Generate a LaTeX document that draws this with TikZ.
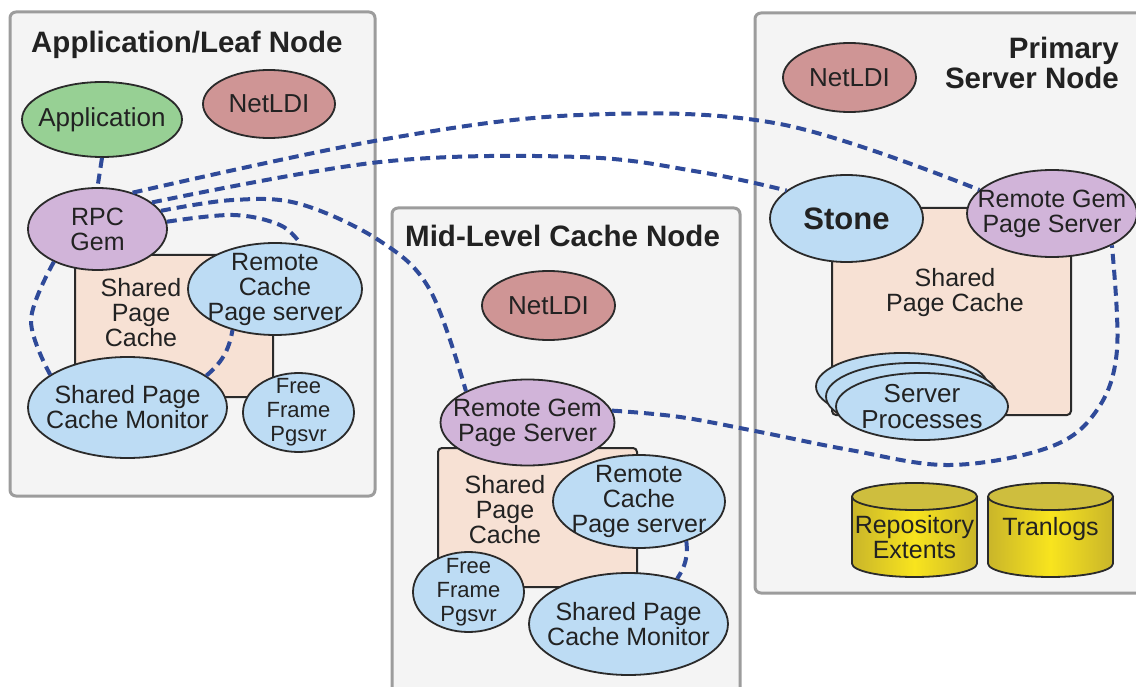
\documentclass[tikz,border=0pt]{standalone}
\usepackage{fontspec}
\setmainfont{Liberation Sans}
\usetikzlibrary{shapes.geometric}

\definecolor{panelfill}{HTML}{F4F4F4}
\definecolor{panelline}{HTML}{9C9C9C}
\definecolor{edge}{HTML}{2A2A2A}
\definecolor{txt}{HTML}{222222}
\definecolor{appgreen}{HTML}{97D094}
\definecolor{ldired}{HTML}{CF9595}
\definecolor{gempurple}{HTML}{D1B4D9}
\definecolor{procblue}{HTML}{BDDCF4}
\definecolor{cachepeach}{HTML}{F7E1D4}
\definecolor{linkblue}{HTML}{2F4A99}
\definecolor{ylight}{HTML}{F8E41E}
\definecolor{ydark}{HTML}{C9B52A}
\definecolor{ytop}{HTML}{CEBE3E}

\begin{document}
\begin{tikzpicture}[x=1pt,y=-1pt,
  panel/.style={draw=panelline, fill=panelfill, line width=3pt, rounded corners=6pt},
  cachebox/.style={draw=edge, fill=cachepeach, line width=2pt, rounded corners=4pt},
  proc/.style={ellipse, draw=edge, line width=1.8pt, inner sep=0pt},
  lbl/.style={text=txt, inner sep=0pt, align=center, font=\fontsize{25}{25}\selectfont},
  smalllbl/.style={lbl, font=\fontsize{22}{24}\selectfont},
  biglbl/.style={lbl, font=\fontsize{26}{26}\selectfont},
  esize/.style 2 args={minimum width=#1pt, minimum height=#2pt},
  title/.style={text=txt, inner sep=0pt, font=\fontsize{29.5}{30}\selectfont\bfseries},
  link/.style={draw=linkblue, line width=4pt, dash pattern=on 10pt off 6pt}
]
\useasboundingbox (0,0) rectangle (1136,687);
\clip (0,0) rectangle (1136,687);

% node frames
\draw[panel] (10,12) rectangle (375,496);
\draw[panel] (392,208) rectangle (740,710);
\draw[panel] (755,13) rectangle (1160,593);

\node[title, anchor=base west] (leaftitle) at (31,53) {Application/Leaf Node};
\node[title, anchor=base west] (midtitle) at (405,247) {Mid-Level Cache Node};
\node[title, anchor=north east, align=right] (primtitle) at (1119,37) {Primary\\Server Node};

% shared page caches
\draw[cachebox] (75,255) rectangle (273,397);
\node[lbl] (spc1) at (141,313) {Shared\\Page\\Cache};
\draw[cachebox] (438,448) rectangle (637,587);
\node[lbl] (spc2) at (505,510) {Shared\\Page\\Cache};
\draw[cachebox] (832,208) rectangle (1071,415);
\node[lbl] (spc3) at (955,293) {Shared\\Page Cache};

% application / leaf node
\node[proc, fill=appgreen, esize={160}{75}, label={[biglbl]center:Application}] (app) at (102,119.5) {};
\node[proc, fill=ldired, esize={132}{68}, label={[biglbl]center:NetLDI}] (ldi1) at (269,104) {};
\node[proc, fill=gempurple, esize={139}{82}, label={[lbl]center:{RPC\\Gem}}] (rpc) at (97.5,229) {};
\node[proc, fill=procblue, esize={174}{92}, label={[lbl]center:{Remote\\Cache\\Page server}}] (rc1) at (275,289) {};
\node[proc, fill=procblue, esize={199}{101}, label={[lbl]center:{Shared Page\\Cache Monitor}}] (mon1) at (127.5,407.5) {};
\node[proc, fill=procblue, esize={111}{79}, label={[smalllbl]center:{Free\\Frame\\Pgsvr}}] (ff1) at (298.5,412.5) {};

% mid-level cache node
\node[proc, fill=ldired, esize={133}{69}, label={[biglbl]center:NetLDI}] (ldi2) at (548.5,305.5) {};
\node[proc, fill=gempurple, esize={174}{86}, label={[lbl]center:{Remote Gem\\Page Server}}] (mrgps) at (527.5,422.5) {};
\node[proc, fill=procblue, esize={172}{93}, label={[lbl]center:{Remote\\Cache\\Page server}}] (rc2) at (639,501.5) {};
\node[proc, fill=procblue, esize={111}{80}, label={[smalllbl]center:{Free\\Frame\\Pgsvr}}] (ff2) at (468.5,592) {};
\node[proc, fill=procblue, esize={199}{102}, label={[lbl]center:{Shared Page\\Cache Monitor}}] (mon2) at (628.5,624) {};

% primary server node
\node[proc, fill=ldired, esize={133}{69}, label={[biglbl]center:NetLDI}] (ldi3) at (849.5,77.5) {};
\node[proc, fill=procblue, esize={153}{87}, label={[lbl, font=\fontsize{31}{31}\selectfont\bfseries]center:Stone}] (stone) at (846.5,218.5) {};
\node[proc, fill=gempurple, esize={170}{87}, label={[lbl]center:{Remote Gem\\Page Server}}] (prgps) at (1052,213.5) {};
\node[proc, fill=procblue, esize={172}{67}] (sp3) at (902,386.5) {};
\node[proc, fill=procblue, esize={172}{67}] (sp2) at (912,396.5) {};
\node[proc, fill=procblue, esize={172}{67}, label={[biglbl]center:{Server\\Processes}}] (sp1) at (922,406.5) {};

% disk cylinders
\foreach \cx in {914.5, 1050.5}{
  \shade[left color=ydark, right color=ydark, middle color=ylight]
    (\cx-62.5,496.5) -- (\cx-62.5,563.5)
    arc[start angle=180, end angle=0, x radius=62.5, y radius=13.5]
    -- (\cx+62.5,496.5) -- cycle;
  \draw[edge, line width=1.8pt, line join=round]
    (\cx-62.5,496.5) -- (\cx-62.5,563.5)
    arc[start angle=180, end angle=0, x radius=62.5, y radius=13.5]
    -- (\cx+62.5,496.5);
  \draw[edge, fill=ytop, line width=1.8pt] (\cx,496.5) ellipse[x radius=62.5, y radius=13.5];
}
\node[lbl] (repotext) at (914.5,537) {Repository\\Extents};
\node[lbl] (tlogtext) at (1050.5,529) {Tranlogs};

% connections
\draw[link] (app.south) -- (rpc.north);
\draw[link] plot[smooth, tension=0.6] coordinates {(rpc.46) (380,140) (580,115) (780,124) (prgps.162)};
\draw[link] plot[smooth, tension=0.6] coordinates {(rpc.26) (380,162) (580,157) (700,172) (stone.155)};
\draw[link] plot[smooth, tension=0.6] coordinates {(rpc.16) (233,200) (300,204) (380,241) (430,290) (mrgps.153)};
\draw[link] plot[smooth, tension=0.6] coordinates {(rpc.6) (233,215) (280,225) (rc1.60)};
\draw[link] plot[smooth, tension=0.6] coordinates {(rpc.217) (31,320) (mon1.157)};
\draw[link] (mon1.22) to[bend right=20] (rc1.224);
\draw[link] (rc2.320) to[bend left=20] (mon2.43);
\draw[link] plot[smooth, tension=0.6] coordinates {(mrgps.8) (680,417) (760,432) (850,450) (950,465) (1050,447) (1097,410) (1117,350) (prgps.332)};
\end{tikzpicture}
\end{document}
